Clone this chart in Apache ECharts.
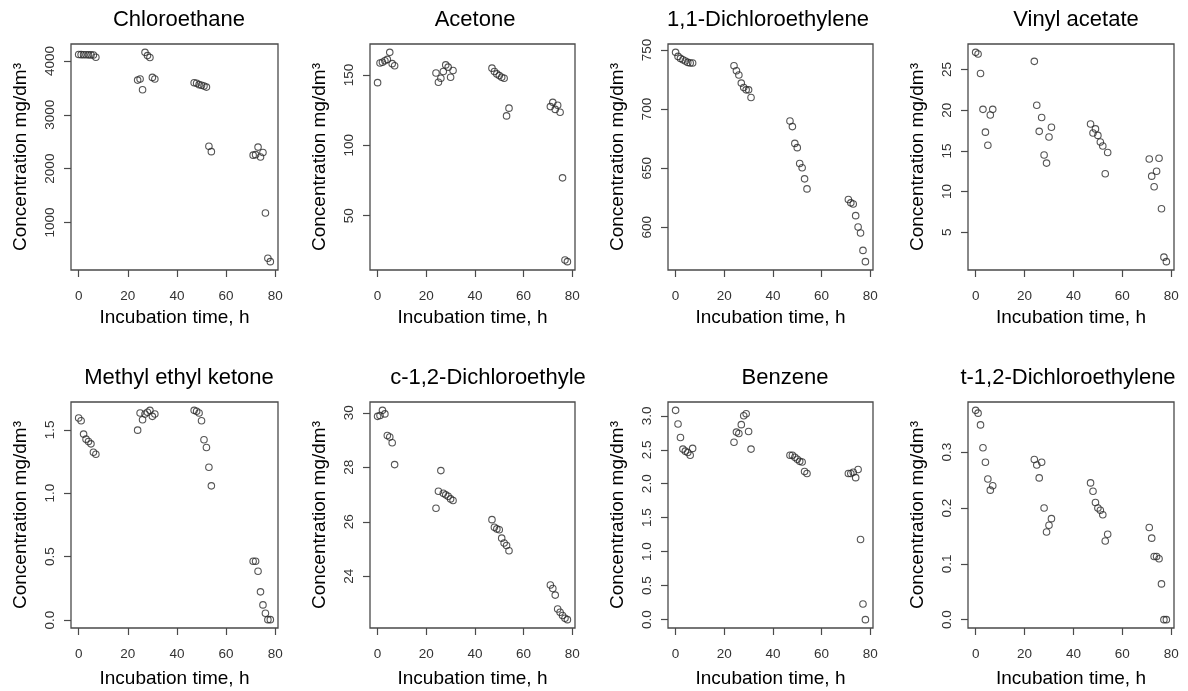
<!DOCTYPE html>
<html>
<head>
<meta charset="utf-8">
<script src="https://cdn.jsdelivr.net/npm/echarts@6/dist/echarts.min.js"></script>
<style>
  html, body { margin: 0; padding: 0; background: #fff; }
  #chart { width: 1188px; height: 691px; }
</style>
</head>
<body>
<div id="chart"></div>
<script>
// sampling times (h), shared by all eight panels
const hours = [0, 1, 2, 3, 4, 5, 6, 7, 24, 25, 26, 27, 28, 29, 30, 31,
  47, 48, 49, 50, 51, 52, 53, 54, 71, 72, 73, 74, 75, 76, 77, 78];

const chloroethane = [4120, 4118, 4116, 4115, 4114, 4113, 4112, 4070,
  3645, 3665, 3465, 4160, 4100, 4065, 3695, 3665,
  3595, 3585, 3560, 3548, 3535, 3515, 2415, 2315,
  2250, 2260, 2400, 2215, 2300, 1175, 335, 272];
const acetone = [144.5, 158.5, 159, 160, 161, 166, 158, 156.5,
  151.4, 144.8, 147.6, 152.4, 157.1, 155.5, 148.3, 153.1,
  154.8, 152.4, 150.7, 149.5, 148.3, 147.6, 120.9, 126.4,
  127.5, 130.5, 125.5, 128.5, 123.5, 76.9, 18.6, 17.4];
const dichloroethylene11 = [748, 744.6, 742.9, 741.8, 740.7, 739.5, 739, 739,
  736.7, 732.5, 728.8, 722, 718.3, 716.3, 716.3, 709.8,
  690, 685.2, 671, 667.4, 654, 650.4, 641, 632.5,
  623.5, 620.7, 619.8, 609.9, 600.3, 595.2, 580.5, 571];
const vinylAcetate = [27.1, 26.9, 24.5, 20.1, 17.3, 15.7, 19.4, 20.1,
  26.0, 20.6, 17.4, 19.1, 14.5, 13.5, 16.7, 17.9,
  18.3, 17.2, 17.7, 16.9, 16.1, 15.6, 12.2, 14.8,
  14.0, 11.9, 10.6, 12.5, 14.1, 7.9, 1.95, 1.4];
const methylEthylKetone = [1.593, 1.571, 1.466, 1.426, 1.407, 1.389, 1.323, 1.307,
  1.497, 1.632, 1.579, 1.624, 1.638, 1.653, 1.606, 1.624,
  1.653, 1.646, 1.632, 1.571, 1.421, 1.360, 1.204, 1.058,
  0.463, 0.463, 0.384, 0.222, 0.119, 0.053, 0.003, 0.003];
const cDichloroethylene12 = [29.87, 29.9, 30.09, 29.96, 29.17, 29.11, 28.9, 28.1,
  26.5, 27.12, 27.88, 27.05, 26.99, 26.94, 26.84, 26.78,
  26.08, 25.8, 25.74, 25.71, 25.4, 25.22, 25.13, 24.94,
  23.68, 23.55, 23.31, 22.8, 22.68, 22.56, 22.46, 22.41];
const benzene = [3.08, 2.88, 2.68, 2.51, 2.48, 2.46, 2.42, 2.52,
  2.61, 2.76, 2.74, 2.87, 3.0, 3.03, 2.77, 2.51,
  2.42, 2.42, 2.39, 2.36, 2.33, 2.32, 2.18, 2.15,
  2.15, 2.15, 2.17, 2.09, 2.21, 1.18, 0.23, 0.0];
const tDichloroethylene12 = [0.375, 0.370, 0.349, 0.308, 0.282, 0.252, 0.232, 0.240,
  0.287, 0.277, 0.254, 0.282, 0.200, 0.157, 0.169, 0.181,
  0.245, 0.230, 0.210, 0.200, 0.196, 0.188, 0.141, 0.153,
  0.165, 0.146, 0.113, 0.113, 0.109, 0.064, 0.0, 0.0];

const titles = ["Chloroethane", "Acetone", "1,1-Dichloroethylene", "Vinyl acetate",
  "Methyl ethyl ketone", "c-1,2-Dichloroethyle", "Benzene", "t-1,2-Dichloroethylene"];
const seriesValues = [chloroethane, acetone, dichloroethylene11, vinylAcetate,
  methylEthylKetone, cDichloroethylene12, benzene, tDichloroethylene12];

// tick labels
const xTicks = [0, 20, 40, 60, 80];
const yTicks = [
  [1000, 2000, 3000, 4000],
  [50, 100, 150],
  [600, 650, 700, 750],
  [5, 10, 15, 20, 25],
  [0, 0.5, 1.0, 1.5],
  [24, 26, 28, 30],
  [0, 0.5, 1.0, 1.5, 2.0, 2.5, 3.0],
  [0, 0.1, 0.2, 0.3]
];
const yDecimals = [0, 0, 0, 0, 1, 0, 1, 1];

// panel boxes (pixels)
const colLeft = [71, 370, 668, 968];
const colWidth = [207, 205, 205, 206];
const rowTop = [44, 402];
const boxHeight = 226;
const titleCenterX = [179, 475, 768, 1076, 179, 488, 785, 1068];
const xNameGap = [38, 41];

// R style axis range: data range stretched by 4% on each side
function rRange(arr) {
  const lo = Math.min(...arr), hi = Math.max(...arr);
  const d = (hi - lo) * 0.04;
  return [lo - d, hi + d];
}

const FONT = "Liberation Sans, Arial, sans-serif";
const grids = [], xAxes = [], yAxes = [], series = [], titleList = [];
const xr = rRange(hours);

seriesValues.forEach(function (vals, i) {
  const row = Math.floor(i / 4), col = i % 4;
  grids.push({
    left: colLeft[col], top: rowTop[row], width: colWidth[col], height: boxHeight,
    show: true, borderColor: "#4a4a4a", borderWidth: 1.3, backgroundColor: "transparent"
  });
  titleList.push({
    text: titles[i], left: titleCenterX[i], top: rowTop[row] - 24,
    textAlign: "center", textVerticalAlign: "middle", padding: 0,
    textStyle: { fontFamily: FONT, fontSize: 22, fontWeight: "normal", color: "#000" }
  });
  xAxes.push({
    gridIndex: i, type: "value", min: xr[0], max: xr[1], position: "bottom",
    name: "Incubation time, h", nameLocation: "middle", nameGap: xNameGap[row],
    nameTextStyle: { fontFamily: FONT, fontSize: 19, color: "#000" },
    axisLine: { show: false, onZero: false },
    axisTick: { show: true, length: 7, customValues: xTicks, lineStyle: { color: "#4a4a4a", width: 1.2 } },
    axisLabel: { customValues: xTicks, margin: 19, fontFamily: FONT, fontSize: 13.5, color: "#333" },
    splitLine: { show: false }
  });
  const yr = rRange(vals);
  const dec = yDecimals[i];
  yAxes.push({
    gridIndex: i, type: "value", min: yr[0], max: yr[1], position: "left",
    name: "Concentration mg/dm³", nameLocation: "middle", nameGap: 41,
    nameTextStyle: { fontFamily: FONT, fontSize: 19, color: "#000" },
    axisLine: { show: false, onZero: false },
    axisTick: { show: true, length: 7, customValues: yTicks[i], lineStyle: { color: "#4a4a4a", width: 1.2 } },
    axisLabel: {
      customValues: yTicks[i], rotate: 90, margin: 14, fontFamily: FONT, fontSize: 13.5, color: "#333",
      formatter: function (v) { return Number(v).toFixed(dec); }
    },
    splitLine: { show: false }
  });
  series.push({
    type: "scatter", xAxisIndex: i, yAxisIndex: i,
    symbol: "circle", symbolSize: 6.5,
    itemStyle: { color: "rgba(0,0,0,0)", borderColor: "#2a2a2a", borderWidth: 1.1 },
    data: hours.map(function (h, j) { return [h, vals[j]]; })
  });
});

const chart = echarts.init(document.getElementById("chart"));
chart.setOption({
  backgroundColor: "#fff",
  animation: false,
  title: titleList,
  grid: grids,
  xAxis: xAxes,
  yAxis: yAxes,
  series: series
});
</script>
</body>
</html>
